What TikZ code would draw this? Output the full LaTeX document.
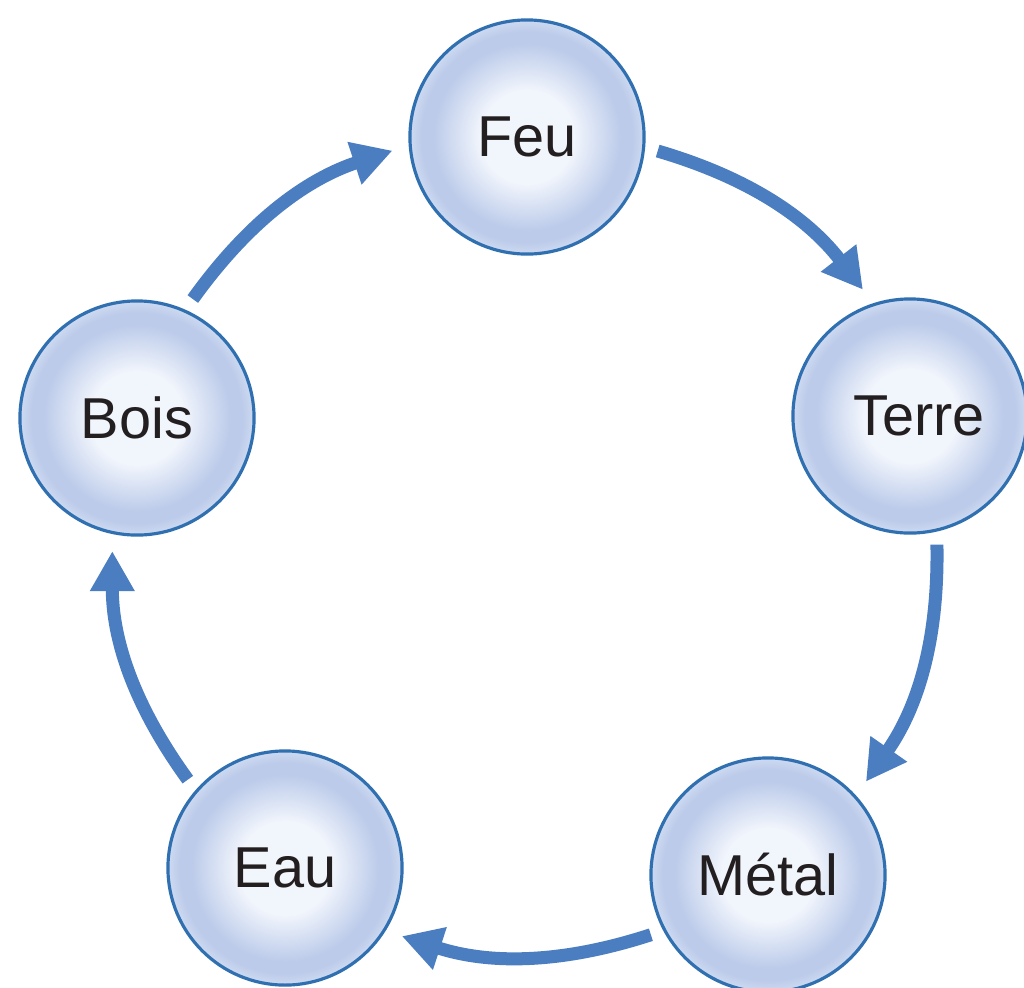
\documentclass[tikz,border=0pt]{standalone}
\usepackage{fontspec}
\setmainfont{Liberation Sans}
\usetikzlibrary{arrows.meta}

\definecolor{arrowblue}{RGB}{74,126,192}
\definecolor{rimblue}{RGB}{48,112,176}
\definecolor{ballin}{RGB}{241,245,252}
\definecolor{ballmid}{RGB}{188,203,234}
\definecolor{ballout}{RGB}{206,218,241}
\definecolor{labelink}{RGB}{35,31,32}

\pgfdeclareradialshading{elemshade}{\pgfpoint{0bp}{0bp}}{%
	color(0bp)=(ballin); color(10bp)=(ballin); color(20bp)=(ballmid);
	color(22.5bp)=(ballmid); color(25bp)=(ballout); color(50bp)=(ballout)}

\tikzset{
	elem/.style={circle, draw=rimblue, line width=0.9pt, shading=elemshade,
		minimum size=2.34cm, inner sep=0pt, text=labelink,
		font=\fontsize{16.4}{20}\selectfont},
	flow/.style={arrowblue, line width=0.13cm,
		-{Triangle[length=0.40cm, width=0.42cm]},
		shorten <=0.13cm, shorten >=0.17cm}
}

\begin{document}
\begin{tikzpicture}[x=0.01cm, y=-0.01cm]
	\useasboundingbox (0,0) rectangle (1024,987);

	% the five elements
	\node[elem] (feu) at (527,137) {Feu};
	\node[elem] (terre) at (910,416) {\hspace{0.18cm}Terre};
	\node[elem] (metal) at (768,875) {Métal};
	\node[elem] (eau) at (285,868) {Eau};
	\node[elem] (bois) at (137,418) {Bois};

	% cycle
	\draw[flow] (feu.-5) to[bend left=18] (terre.108);
	\draw[flow] (terre.-77) to[bend left=18] (metal.42);
	\draw[flow] (metal.-152) to[bend left=18] (eau.-32);
	\draw[flow] (eau.139) to[bend left=18] (bois.-102);
	\draw[flow] (bois.66) to[bend left=18] (feu.184);
\end{tikzpicture}
\end{document}
